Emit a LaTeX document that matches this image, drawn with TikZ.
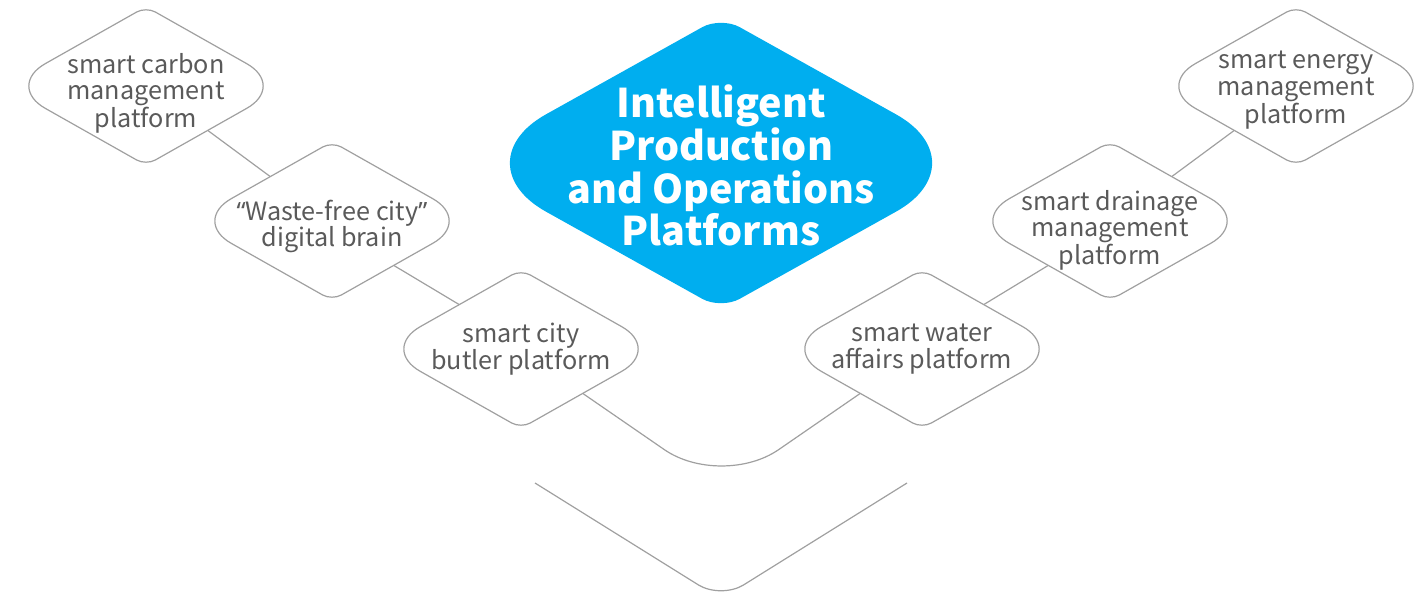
\documentclass[tikz,border=0pt]{standalone}
\usepackage{fontspec}
\setmainfont{Noto Sans CJK SC}
\newfontfamily\quotefont{Noto Sans}
\usetikzlibrary{calc}
\definecolor{cblue}{HTML}{00AEEF}
\definecolor{ctext}{HTML}{5A5A5A}
\definecolor{cline}{HTML}{A0A0A0}
% rounded diamond outline through the four side anchors of a node
% #1 node, #2 side radius, #3 top/bottom radius, #4 path options
\newcommand\rdia[4]{%
  \path[#4]
   ($(#1.west)!#2!(#1.north)$) -- ($(#1.north)!#3!(#1.west)$)
   .. controls ($(#1.north)!#3*0.4477!(#1.west)$) and ($(#1.north)!#3*0.4477!(#1.east)$) .. ($(#1.north)!#3!(#1.east)$)
   -- ($(#1.east)!#2!(#1.north)$)
   .. controls ($(#1.east)!#2*0.4477!(#1.north)$) and ($(#1.east)!#2*0.4477!(#1.south)$) .. ($(#1.east)!#2!(#1.south)$)
   -- ($(#1.south)!#3!(#1.east)$)
   .. controls ($(#1.south)!#3*0.4477!(#1.east)$) and ($(#1.south)!#3*0.4477!(#1.west)$) .. ($(#1.south)!#3!(#1.west)$)
   -- ($(#1.west)!#2!(#1.south)$)
   .. controls ($(#1.west)!#2*0.4477!(#1.south)$) and ($(#1.west)!#2*0.4477!(#1.north)$) .. cycle;
}
\begin{document}
\begin{tikzpicture}[x=0.75pt,y=-0.75pt,
  frame/.style={rectangle,draw=none,inner sep=0pt,minimum width=210pt,minimum height=118.5pt},
  bigframe/.style={rectangle,draw=none,inner sep=0pt,minimum width=393pt,minimum height=219pt},
  label/.style={align=center,text=ctext,inner sep=0pt,font=\fontsize{18.9}{20}\selectfont,yshift=-4pt},
  biglabel/.style={align=center,text=white,inner sep=0pt,font=\fontsize{29.6}{32}\selectfont\bfseries,yshift=-2pt},
  outline/.style={draw=cline,line width=0.9pt,fill=white},
  conn/.style={draw=cline,line width=0.9pt}]
\useasboundingbox (0,0) rectangle (1425,593);
\clip (0,0) rectangle (1425,593);

\node[bigframe] (main) at (721,163) {};
\node[frame] (carbon) at (146,86) {};
\node[frame] (waste) at (332,221) {};
\node[frame] (butler) at (521,349) {};
\node[frame] (water) at (922,349) {};
\node[frame] (drainage) at (1110,221) {};
\node[frame] (energy) at (1296,86) {};

\coordinate (vU) at (721.5,489);
\coordinate (bL) at (535,483);
\coordinate (bV) at (721,599);
\coordinate (bR) at (907,483);

% connectors
\draw[conn] ($(carbon.east)!0.56!(carbon.south)$) -- ($(waste.west)!0.56!(waste.north)$);
\draw[conn] ($(waste.east)!0.56!(waste.south)$) -- ($(butler.west)!0.56!(butler.north)$);
\draw[conn] ($(water.east)!0.56!(water.north)$) -- ($(drainage.west)!0.56!(drainage.south)$);
\draw[conn] ($(drainage.east)!0.56!(drainage.north)$) -- ($(energy.west)!0.56!(energy.south)$);
\draw[conn,rounded corners=52pt] ($(butler.east)!0.56!(butler.south)$) -- (vU) -- ($(water.west)!0.56!(water.south)$);
\draw[conn,rounded corners=20pt] (bL) -- (bV) -- (bR);

% shapes
\rdia{main}{75pt}{16pt}{fill=cblue}
\rdia{carbon}{34pt}{8pt}{outline}
\rdia{waste}{34pt}{8pt}{outline}
\rdia{butler}{34pt}{8pt}{outline}
\rdia{water}{34pt}{8pt}{outline}
\rdia{drainage}{34pt}{8pt}{outline}
\rdia{energy}{34pt}{8pt}{outline}

% texts
\node[biglabel] (mainT) at (main) {Intelligent\\Production\\and Operations\\Platforms};
\node[label,yshift=-1.5pt] (carbonT) at (carbon) {smart carbon\\management\\platform};
\node[label] (wasteT) at (waste) {{\quotefont “}Waste-free city{\quotefont ”}\\digital brain};
\node[label,yshift=4pt] (butlerT) at (butler) {smart city\\butler platform};
\node[label,yshift=4pt] (waterT) at (water) {smart water\\affairs platform};
\node[label,yshift=-3pt] (drainageT) at (drainage) {smart drainage\\management\\platform};
\node[label,yshift=1pt] (energyT) at (energy) {smart energy\\management\\platform};
\end{tikzpicture}
\end{document}
